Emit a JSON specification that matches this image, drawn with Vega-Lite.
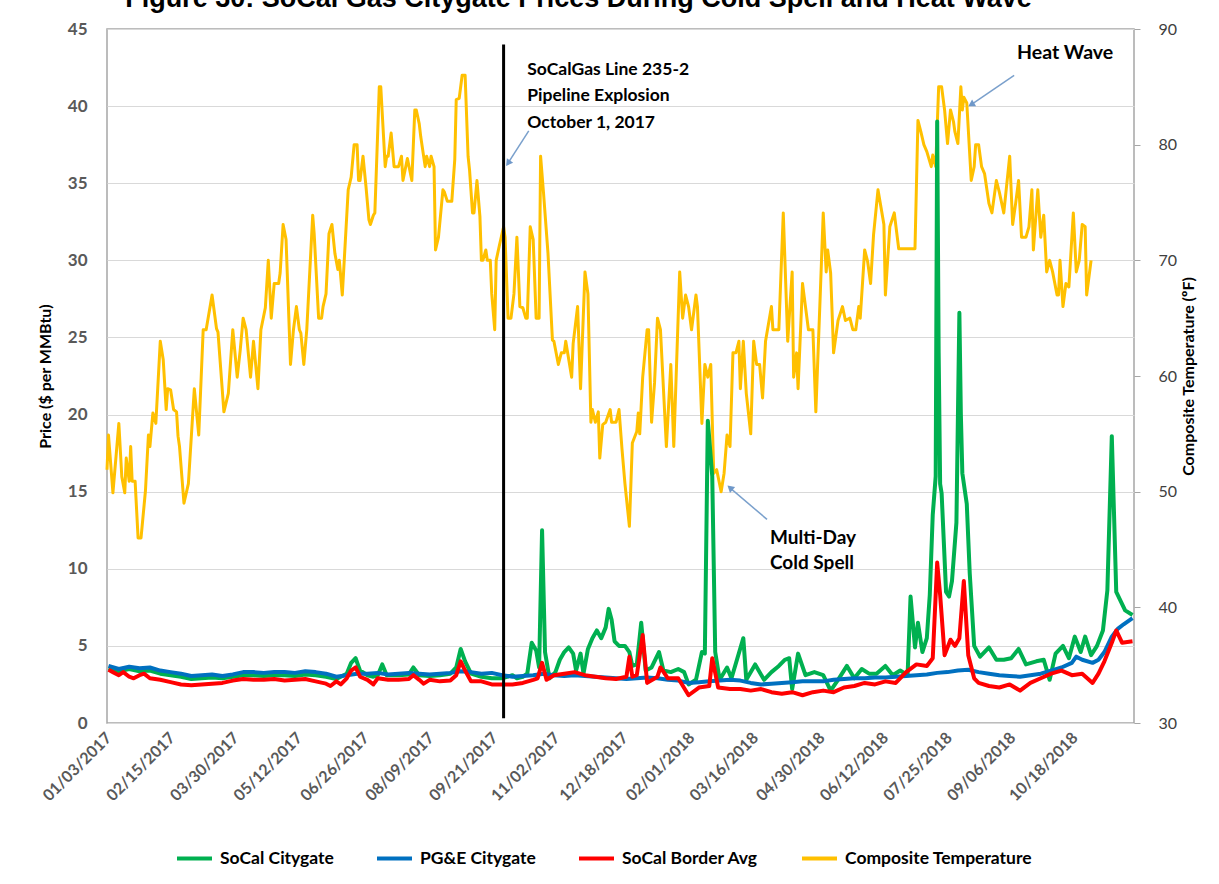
{
  "$schema": "https://vega.github.io/schema/vega-lite/v6.json",
  "width": 1027,
  "height": 694,
  "autosize": {"type": "none"},
  "padding": {"left": 107, "top": 29, "right": 85, "bottom": 161},
  "background": "white",
  "title": {"text": "Figure 30: SoCal Gas Citygate Prices During Cold Spell and Heat Wave", "font": "Liberation Sans", "fontSize": 27, "fontWeight": "bold", "color": "#000000", "anchor": "middle", "dx": -42, "dy": 16, "offset": 2, "baseline": "alphabetic"},
  "config": {
    "font": "Lato",
    "view": {"stroke": "#a6a6a6", "strokeWidth": 1.5},
    "axis": {"labelFont": "Lato", "titleFont": "Lato"}
  },
  "datasets": {
    "temperature": [
      {"date":"2017-01-02","temp":51.9},{"date":"2017-01-03","temp":54.9},{"date":"2017-01-06","temp":49.9},{"date":"2017-01-10","temp":55.9},{"date":"2017-01-12","temp":51.3},{"date":"2017-01-14","temp":49.9},{"date":"2017-01-15","temp":52.9},{"date":"2017-01-17","temp":50.9},{"date":"2017-01-18","temp":53.9},{"date":"2017-01-19","temp":50.9},{"date":"2017-01-21","temp":50.9},{"date":"2017-01-23","temp":46.0},{"date":"2017-01-25","temp":46.0},{"date":"2017-01-28","temp":50.1},{"date":"2017-01-30","temp":54.9},{"date":"2017-01-31","temp":53.9},
      {"date":"2017-02-02","temp":56.8},{"date":"2017-02-04","temp":55.9},{"date":"2017-02-07","temp":63.0},{"date":"2017-02-09","temp":61.4},{"date":"2017-02-11","temp":57.1},{"date":"2017-02-12","temp":58.9},{"date":"2017-02-14","temp":58.8},{"date":"2017-02-16","temp":57.1},{"date":"2017-02-18","temp":56.9},{"date":"2017-02-19","temp":54.8},{"date":"2017-02-20","temp":53.9},{"date":"2017-02-23","temp":49.0},{"date":"2017-02-26","temp":50.7},
      {"date":"2017-03-02","temp":58.9},{"date":"2017-03-05","temp":54.9},{"date":"2017-03-08","temp":64.0},{"date":"2017-03-10","temp":64.0},{"date":"2017-03-14","temp":67.0},{"date":"2017-03-17","temp":64.1},{"date":"2017-03-18","temp":63.8},{"date":"2017-03-22","temp":56.9},{"date":"2017-03-25","temp":58.5},{"date":"2017-03-28","temp":64.0},{"date":"2017-03-31","temp":59.9},
      {"date":"2017-04-02","temp":62.2},{"date":"2017-04-04","temp":65.0},{"date":"2017-04-06","temp":64.0},{"date":"2017-04-09","temp":59.9},{"date":"2017-04-11","temp":63.0},{"date":"2017-04-14","temp":58.9},{"date":"2017-04-16","temp":64.0},{"date":"2017-04-19","temp":65.9},{"date":"2017-04-21","temp":70.0},{"date":"2017-04-23","temp":65.0},{"date":"2017-04-25","temp":68.0},{"date":"2017-04-28","temp":68.0},{"date":"2017-04-29","temp":68.9},
      {"date":"2017-05-01","temp":73.1},{"date":"2017-05-03","temp":71.8},{"date":"2017-05-06","temp":61.0},{"date":"2017-05-08","temp":64.0},{"date":"2017-05-10","temp":66.0},{"date":"2017-05-12","temp":64.0},{"date":"2017-05-13","temp":63.7},{"date":"2017-05-15","temp":61.0},{"date":"2017-05-17","temp":64.0},{"date":"2017-05-21","temp":73.9},{"date":"2017-05-22","temp":72.3},{"date":"2017-05-25","temp":65.0},{"date":"2017-05-27","temp":65.0},{"date":"2017-05-28","temp":66.0},{"date":"2017-05-30","temp":67.1},
      {"date":"2017-06-01","temp":72.3},{"date":"2017-06-03","temp":73.1},{"date":"2017-06-05","temp":70.6},{"date":"2017-06-07","temp":69.2},{"date":"2017-06-08","temp":70.0},{"date":"2017-06-10","temp":67.0},{"date":"2017-06-14","temp":76.1},{"date":"2017-06-16","temp":77.2},{"date":"2017-06-18","temp":80.0},{"date":"2017-06-20","temp":80.0},{"date":"2017-06-21","temp":76.9},{"date":"2017-06-22","temp":76.9},{"date":"2017-06-24","temp":79.0},{"date":"2017-06-26","temp":76.4},{"date":"2017-06-28","temp":73.5},{"date":"2017-06-29","temp":73.1},
      {"date":"2017-07-01","temp":73.9},{"date":"2017-07-02","temp":74.1},{"date":"2017-07-05","temp":85.0},{"date":"2017-07-06","temp":85.0},{"date":"2017-07-08","temp":80.4},{"date":"2017-07-09","temp":78.1},{"date":"2017-07-10","temp":79.0},{"date":"2017-07-11","temp":79.0},{"date":"2017-07-13","temp":81.0},{"date":"2017-07-15","temp":78.1},{"date":"2017-07-18","temp":78.1},{"date":"2017-07-20","temp":79.0},{"date":"2017-07-21","temp":76.9},{"date":"2017-07-24","temp":78.8},{"date":"2017-07-27","temp":76.9},{"date":"2017-07-29","temp":83.0},{"date":"2017-07-30","temp":83.0},
      {"date":"2017-08-01","temp":81.8},{"date":"2017-08-02","temp":80.7},{"date":"2017-08-05","temp":78.1},{"date":"2017-08-06","temp":79.0},{"date":"2017-08-08","temp":78.1},{"date":"2017-08-09","temp":79.0},{"date":"2017-08-11","temp":78.1},{"date":"2017-08-12","temp":70.9},{"date":"2017-08-14","temp":72.0},{"date":"2017-08-17","temp":76.1},{"date":"2017-08-18","temp":75.9},{"date":"2017-08-20","temp":75.1},{"date":"2017-08-23","temp":75.1},{"date":"2017-08-25","temp":78.7},{"date":"2017-08-26","temp":83.9},{"date":"2017-08-28","temp":84.0},{"date":"2017-08-30","temp":86.0},
      {"date":"2017-09-01","temp":86.0},{"date":"2017-09-03","temp":79.0},{"date":"2017-09-04","temp":77.8},{"date":"2017-09-06","temp":74.1},{"date":"2017-09-07","temp":74.1},{"date":"2017-09-09","temp":76.9},{"date":"2017-09-11","temp":73.8},{"date":"2017-09-12","temp":70.0},{"date":"2017-09-13","temp":70.0},{"date":"2017-09-15","temp":70.9},{"date":"2017-09-16","temp":70.0},{"date":"2017-09-18","temp":70.0},{"date":"2017-09-19","temp":67.1},{"date":"2017-09-21","temp":64.0},{"date":"2017-09-22","temp":70.0},{"date":"2017-09-24","temp":71.2},{"date":"2017-09-27","temp":72.9},{"date":"2017-09-28","temp":72.0},{"date":"2017-09-30","temp":65.0},
      {"date":"2017-10-02","temp":65.0},{"date":"2017-10-04","temp":67.1},{"date":"2017-10-06","temp":72.0},{"date":"2017-10-08","temp":66.0},{"date":"2017-10-10","temp":65.9},{"date":"2017-10-12","temp":65.0},{"date":"2017-10-13","temp":65.0},{"date":"2017-10-15","temp":72.9},{"date":"2017-10-17","temp":71.8},{"date":"2017-10-19","temp":65.0},{"date":"2017-10-21","temp":65.0},{"date":"2017-10-22","temp":79.0},{"date":"2017-10-24","temp":75.8},{"date":"2017-10-27","temp":70.6},{"date":"2017-10-30","temp":63.1},{"date":"2017-10-31","temp":63.0},
      {"date":"2017-11-03","temp":61.0},{"date":"2017-11-05","temp":62.0},{"date":"2017-11-07","temp":62.0},{"date":"2017-11-08","temp":63.0},{"date":"2017-11-12","temp":59.9},{"date":"2017-11-13","temp":62.8},{"date":"2017-11-16","temp":66.0},{"date":"2017-11-18","temp":58.9},{"date":"2017-11-21","temp":69.0},{"date":"2017-11-23","temp":67.1},{"date":"2017-11-25","temp":56.0},{"date":"2017-11-26","temp":57.1},{"date":"2017-11-28","temp":56.0},{"date":"2017-11-30","temp":56.9},
      {"date":"2017-12-01","temp":52.9},{"date":"2017-12-03","temp":55.8},{"date":"2017-12-05","temp":56.0},{"date":"2017-12-08","temp":57.1},{"date":"2017-12-09","temp":56.0},{"date":"2017-12-12","temp":56.0},{"date":"2017-12-14","temp":57.1},{"date":"2017-12-16","temp":53.7},{"date":"2017-12-18","temp":50.7},{"date":"2017-12-21","temp":47.0},{"date":"2017-12-23","temp":54.2},{"date":"2017-12-26","temp":55.2},{"date":"2017-12-27","temp":56.8},{"date":"2017-12-28","temp":55.0},{"date":"2017-12-30","temp":59.9},
      {"date":"2018-01-02","temp":64.0},{"date":"2018-01-03","temp":64.0},{"date":"2018-01-05","temp":56.0},{"date":"2018-01-07","temp":59.4},{"date":"2018-01-09","temp":65.0},{"date":"2018-01-11","temp":64.0},{"date":"2018-01-15","temp":53.9},{"date":"2018-01-18","temp":61.0},{"date":"2018-01-20","temp":53.9},{"date":"2018-01-24","temp":69.0},{"date":"2018-01-26","temp":65.0},{"date":"2018-01-28","temp":67.0},{"date":"2018-01-30","temp":66.0},
      {"date":"2018-02-01","temp":64.0},{"date":"2018-02-04","temp":67.0},{"date":"2018-02-05","temp":66.0},{"date":"2018-02-08","temp":55.9},{"date":"2018-02-10","temp":61.0},{"date":"2018-02-12","temp":59.9},{"date":"2018-02-14","temp":61.0},{"date":"2018-02-15","temp":56.2},{"date":"2018-02-16","temp":51.6},{"date":"2018-02-18","temp":51.9},{"date":"2018-02-21","temp":50.0},{"date":"2018-02-23","temp":51.6},{"date":"2018-02-25","temp":54.9},{"date":"2018-02-27","temp":53.9},
      {"date":"2018-03-01","temp":62.0},{"date":"2018-03-03","temp":62.0},{"date":"2018-03-05","temp":63.0},{"date":"2018-03-06","temp":58.9},{"date":"2018-03-08","temp":63.0},{"date":"2018-03-10","temp":58.5},{"date":"2018-03-13","temp":55.0},{"date":"2018-03-15","temp":63.0},{"date":"2018-03-17","temp":61.0},{"date":"2018-03-19","temp":61.0},{"date":"2018-03-21","temp":58.1},{"date":"2018-03-23","temp":63.0},{"date":"2018-03-27","temp":66.0},{"date":"2018-03-28","temp":64.0},
      {"date":"2018-04-01","temp":64.0},{"date":"2018-04-04","temp":74.1},{"date":"2018-04-07","temp":63.0},{"date":"2018-04-10","temp":69.0},{"date":"2018-04-11","temp":59.9},{"date":"2018-04-13","temp":62.0},{"date":"2018-04-14","temp":58.9},{"date":"2018-04-17","temp":68.0},{"date":"2018-04-19","temp":66.0},{"date":"2018-04-21","temp":64.0},{"date":"2018-04-24","temp":64.0},{"date":"2018-04-26","temp":56.9},{"date":"2018-04-29","temp":67.1},
      {"date":"2018-05-01","temp":74.1},{"date":"2018-05-03","temp":69.0},{"date":"2018-05-04","temp":70.9},{"date":"2018-05-06","temp":68.9},{"date":"2018-05-08","temp":62.0},{"date":"2018-05-11","temp":64.8},{"date":"2018-05-14","temp":66.0},{"date":"2018-05-16","temp":64.8},{"date":"2018-05-19","temp":65.0},{"date":"2018-05-21","temp":64.0},{"date":"2018-05-23","temp":64.0},{"date":"2018-05-25","temp":66.0},{"date":"2018-05-26","temp":65.0},{"date":"2018-05-29","temp":70.9},{"date":"2018-05-31","temp":69.9},
      {"date":"2018-06-02","temp":68.0},{"date":"2018-06-04","temp":72.2},{"date":"2018-06-07","temp":76.1},{"date":"2018-06-09","temp":74.6},{"date":"2018-06-11","temp":73.1},{"date":"2018-06-12","temp":67.0},{"date":"2018-06-15","temp":72.9},{"date":"2018-06-18","temp":74.1},{"date":"2018-06-21","temp":71.0},
      {"date":"2018-07-02","temp":71.0},{"date":"2018-07-04","temp":82.1},{"date":"2018-07-06","temp":81.1},{"date":"2018-07-08","temp":80.0},{"date":"2018-07-10","temp":79.4},{"date":"2018-07-13","temp":78.1},{"date":"2018-07-14","temp":79.1},{"date":"2018-07-16","temp":78.1},{"date":"2018-07-18","temp":85.0},{"date":"2018-07-20","temp":85.0},{"date":"2018-07-22","temp":83.0},{"date":"2018-07-24","temp":80.1},{"date":"2018-07-26","temp":83.0},{"date":"2018-07-28","temp":82.0},{"date":"2018-07-29","temp":81.1},{"date":"2018-07-31","temp":80.1},
      {"date":"2018-08-02","temp":85.0},{"date":"2018-08-03","temp":83.0},{"date":"2018-08-04","temp":84.1},{"date":"2018-08-06","temp":83.6},{"date":"2018-08-09","temp":76.9},{"date":"2018-08-11","temp":78.1},{"date":"2018-08-12","temp":80.0},{"date":"2018-08-14","temp":80.0},{"date":"2018-08-16","temp":78.1},{"date":"2018-08-18","temp":77.5},{"date":"2018-08-21","temp":74.9},{"date":"2018-08-23","temp":74.1},{"date":"2018-08-26","temp":76.9},{"date":"2018-08-28","temp":75.9},{"date":"2018-08-31","temp":74.1},
      {"date":"2018-09-04","temp":79.0},{"date":"2018-09-06","temp":73.1},{"date":"2018-09-08","temp":74.9},{"date":"2018-09-10","temp":76.9},{"date":"2018-09-12","temp":72.0},{"date":"2018-09-15","temp":72.0},{"date":"2018-09-17","temp":72.9},{"date":"2018-09-19","temp":76.1},{"date":"2018-09-20","temp":70.9},{"date":"2018-09-23","temp":76.1},{"date":"2018-09-25","temp":72.0},{"date":"2018-09-27","temp":73.9},{"date":"2018-09-29","temp":69.0},
      {"date":"2018-10-01","temp":70.0},{"date":"2018-10-03","temp":69.0},{"date":"2018-10-06","temp":67.0},{"date":"2018-10-07","temp":67.0},{"date":"2018-10-08","temp":70.0},{"date":"2018-10-10","temp":66.0},{"date":"2018-10-12","temp":68.0},{"date":"2018-10-14","temp":67.7},{"date":"2018-10-17","temp":74.1},{"date":"2018-10-19","temp":69.0},{"date":"2018-10-21","temp":70.0},{"date":"2018-10-23","temp":73.1},{"date":"2018-10-25","temp":72.9},{"date":"2018-10-26","temp":67.0},{"date":"2018-10-29","temp":70.0}
    ],
    "citygate": [
      {"date":"2017-01-03","price":3.55},{"date":"2017-01-10","price":3.35},{"date":"2017-01-17","price":3.5},{"date":"2017-01-24","price":3.35},{"date":"2017-01-31","price":3.4},{"date":"2017-02-07","price":3.2},{"date":"2017-02-14","price":3.1},{"date":"2017-02-21","price":3.0},{"date":"2017-02-28","price":2.85},{"date":"2017-03-07","price":2.9},{"date":"2017-03-14","price":2.95},{"date":"2017-03-21","price":2.9},{"date":"2017-03-28","price":3.0},{"date":"2017-04-04","price":3.1},{"date":"2017-04-11","price":3.1},{"date":"2017-04-18","price":3.05},{"date":"2017-04-25","price":3.1},{"date":"2017-05-02","price":3.1},{"date":"2017-05-09","price":3.05},{"date":"2017-05-16","price":3.15},{"date":"2017-05-23","price":3.1},{"date":"2017-05-30","price":3.0},{"date":"2017-06-06","price":2.85},{"date":"2017-06-13","price":3.2},{"date":"2017-06-16","price":3.9},{"date":"2017-06-19","price":4.2},{"date":"2017-06-22","price":3.4},{"date":"2017-06-27","price":3.1},{"date":"2017-07-01","price":3.0},{"date":"2017-07-04","price":3.1},{"date":"2017-07-07","price":3.8},{"date":"2017-07-10","price":3.1},{"date":"2017-07-18","price":3.1},{"date":"2017-07-25","price":3.15},{"date":"2017-07-28","price":3.6},{"date":"2017-08-01","price":3.1},{"date":"2017-08-08","price":3.05},{"date":"2017-08-15","price":3.1},{"date":"2017-08-22","price":3.2},{"date":"2017-08-26","price":3.6},{"date":"2017-08-29","price":4.8},{"date":"2017-09-01","price":4.0},{"date":"2017-09-05","price":3.2},{"date":"2017-09-12","price":3.0},{"date":"2017-09-19","price":2.9},{"date":"2017-09-26","price":2.9},
      {"date":"2017-10-03","price":3.1},{"date":"2017-10-06","price":2.9},{"date":"2017-10-10","price":3.0},{"date":"2017-10-13","price":3.2},{"date":"2017-10-16","price":5.2},{"date":"2017-10-19","price":4.7},{"date":"2017-10-21","price":3.6},{"date":"2017-10-23","price":12.5},{"date":"2017-10-25","price":4.6},{"date":"2017-10-28","price":2.9},{"date":"2017-11-01","price":3.3},{"date":"2017-11-04","price":4.1},{"date":"2017-11-07","price":4.6},{"date":"2017-11-10","price":4.9},{"date":"2017-11-13","price":4.5},{"date":"2017-11-15","price":3.4},{"date":"2017-11-18","price":4.5},{"date":"2017-11-20","price":3.2},{"date":"2017-11-23","price":4.8},{"date":"2017-11-26","price":5.5},{"date":"2017-11-29","price":6.0},{"date":"2017-12-02","price":5.5},{"date":"2017-12-05","price":6.2},{"date":"2017-12-07","price":7.4},{"date":"2017-12-09","price":6.7},{"date":"2017-12-11","price":5.3},{"date":"2017-12-14","price":5.0},{"date":"2017-12-18","price":5.0},{"date":"2017-12-21","price":4.6},{"date":"2017-12-23","price":3.7},{"date":"2017-12-26","price":3.8},{"date":"2017-12-29","price":6.5},
      {"date":"2018-01-01","price":3.4},{"date":"2018-01-05","price":3.6},{"date":"2018-01-10","price":4.6},{"date":"2018-01-13","price":3.4},{"date":"2018-01-18","price":3.3},{"date":"2018-01-23","price":3.5},{"date":"2018-01-27","price":3.3},{"date":"2018-01-30","price":2.5},{"date":"2018-02-04","price":2.8},{"date":"2018-02-08","price":4.6},{"date":"2018-02-10","price":4.5},{"date":"2018-02-12","price":19.6},{"date":"2018-02-15","price":16.0},{"date":"2018-02-17","price":4.6},{"date":"2018-02-20","price":2.8},{"date":"2018-02-25","price":3.6},{"date":"2018-02-28","price":2.9},{"date":"2018-03-08","price":5.5},{"date":"2018-03-10","price":2.8},{"date":"2018-03-16","price":3.8},{"date":"2018-03-22","price":2.8},{"date":"2018-03-27","price":3.3},{"date":"2018-04-01","price":3.7},{"date":"2018-04-05","price":4.1},{"date":"2018-04-08","price":4.2},{"date":"2018-04-10","price":2.2},{"date":"2018-04-14","price":4.5},{"date":"2018-04-19","price":3.1},{"date":"2018-04-25","price":3.3},{"date":"2018-05-01","price":3.1},{"date":"2018-05-06","price":2.1},{"date":"2018-05-11","price":2.8},{"date":"2018-05-17","price":3.7},{"date":"2018-05-22","price":2.9},{"date":"2018-05-27","price":3.5},{"date":"2018-06-01","price":3.2},{"date":"2018-06-06","price":3.2},{"date":"2018-06-12","price":3.7},{"date":"2018-06-17","price":3.1},{"date":"2018-06-22","price":3.4},{"date":"2018-06-27","price":3.1},
      {"date":"2018-06-29","price":8.2},{"date":"2018-07-02","price":4.9},{"date":"2018-07-04","price":6.5},{"date":"2018-07-07","price":4.6},{"date":"2018-07-10","price":5.5},{"date":"2018-07-12","price":8.3},{"date":"2018-07-14","price":13.5},{"date":"2018-07-16","price":16.0},{"date":"2018-07-17","price":39.0},{"date":"2018-07-18","price":24.0},{"date":"2018-07-19","price":15.5},{"date":"2018-07-20","price":14.9},{"date":"2018-07-23","price":8.5},{"date":"2018-07-25","price":8.2},{"date":"2018-07-27","price":9.2},{"date":"2018-07-30","price":13.0},{"date":"2018-08-01","price":26.6},{"date":"2018-08-02","price":20.0},{"date":"2018-08-03","price":16.2},{"date":"2018-08-06","price":14.2},{"date":"2018-08-08","price":9.7},{"date":"2018-08-11","price":5.0},{"date":"2018-08-15","price":4.3},{"date":"2018-08-21","price":4.9},{"date":"2018-08-26","price":4.1},{"date":"2018-08-31","price":4.1},{"date":"2018-09-05","price":4.2},{"date":"2018-09-10","price":4.8},{"date":"2018-09-15","price":3.8},{"date":"2018-09-22","price":4.0},{"date":"2018-09-27","price":4.1},{"date":"2018-10-01","price":2.8},{"date":"2018-10-05","price":4.5},{"date":"2018-10-10","price":5.0},{"date":"2018-10-14","price":4.2},{"date":"2018-10-18","price":5.6},{"date":"2018-10-22","price":4.6},{"date":"2018-10-25","price":5.6},{"date":"2018-10-29","price":4.4},{"date":"2018-11-02","price":5.0},{"date":"2018-11-06","price":6.0},{"date":"2018-11-09","price":8.6},{"date":"2018-11-12","price":18.6},{"date":"2018-11-15","price":8.5},{"date":"2018-11-18","price":7.9},{"date":"2018-11-21","price":7.3},{"date":"2018-11-26","price":7.0}
    ],
    "pge": [
      {"date":"2017-01-03","price":3.7},{"date":"2017-01-10","price":3.5},{"date":"2017-01-17","price":3.65},{"date":"2017-01-24","price":3.55},{"date":"2017-01-31","price":3.6},{"date":"2017-02-07","price":3.4},{"date":"2017-02-14","price":3.3},{"date":"2017-02-21","price":3.2},{"date":"2017-02-28","price":3.05},{"date":"2017-03-07","price":3.1},{"date":"2017-03-14","price":3.15},{"date":"2017-03-21","price":3.05},{"date":"2017-03-28","price":3.15},{"date":"2017-04-04","price":3.3},{"date":"2017-04-11","price":3.3},{"date":"2017-04-18","price":3.25},{"date":"2017-04-25","price":3.3},{"date":"2017-05-02","price":3.3},{"date":"2017-05-09","price":3.25},{"date":"2017-05-16","price":3.35},{"date":"2017-05-23","price":3.3},{"date":"2017-05-30","price":3.2},{"date":"2017-06-06","price":3.0},{"date":"2017-06-13","price":3.1},{"date":"2017-06-20","price":3.2},{"date":"2017-06-27","price":3.2},{"date":"2017-07-04","price":3.25},{"date":"2017-07-11","price":3.15},{"date":"2017-07-18","price":3.2},{"date":"2017-07-25","price":3.25},{"date":"2017-08-01","price":3.2},{"date":"2017-08-08","price":3.15},{"date":"2017-08-15","price":3.2},{"date":"2017-08-22","price":3.25},{"date":"2017-08-29","price":3.35},{"date":"2017-09-05","price":3.3},{"date":"2017-09-12","price":3.2},{"date":"2017-09-19","price":3.25},{"date":"2017-09-26","price":3.1},{"date":"2017-10-03","price":3.0},{"date":"2017-10-10","price":3.05},{"date":"2017-10-17","price":3.1},{"date":"2017-10-24","price":3.2},{"date":"2017-10-31","price":3.1},{"date":"2017-11-07","price":3.05},{"date":"2017-11-14","price":3.1},{"date":"2017-11-21","price":3.05},{"date":"2017-11-28","price":3.0},{"date":"2017-12-05","price":2.95},{"date":"2017-12-12","price":2.9},{"date":"2017-12-19","price":2.85},{"date":"2017-12-26","price":2.9},
      {"date":"2018-01-02","price":2.95},{"date":"2018-01-09","price":2.9},{"date":"2018-01-16","price":2.8},{"date":"2018-01-23","price":2.75},{"date":"2018-01-30","price":2.6},{"date":"2018-02-06","price":2.65},{"date":"2018-02-13","price":2.7},{"date":"2018-02-20","price":2.75},{"date":"2018-02-27","price":2.8},{"date":"2018-03-06","price":2.75},{"date":"2018-03-13","price":2.6},{"date":"2018-03-20","price":2.5},{"date":"2018-03-27","price":2.55},{"date":"2018-04-03","price":2.6},{"date":"2018-04-10","price":2.65},{"date":"2018-04-17","price":2.7},{"date":"2018-04-24","price":2.7},{"date":"2018-05-01","price":2.7},{"date":"2018-05-08","price":2.8},{"date":"2018-05-15","price":2.85},{"date":"2018-05-22","price":2.9},{"date":"2018-05-29","price":2.9},{"date":"2018-06-05","price":2.95},{"date":"2018-06-12","price":2.95},{"date":"2018-06-19","price":3.0},{"date":"2018-06-26","price":3.05},{"date":"2018-07-03","price":3.1},{"date":"2018-07-10","price":3.15},{"date":"2018-07-17","price":3.25},{"date":"2018-07-24","price":3.3},{"date":"2018-07-31","price":3.4},{"date":"2018-08-07","price":3.45},{"date":"2018-08-14","price":3.3},{"date":"2018-08-21","price":3.2},{"date":"2018-08-28","price":3.1},{"date":"2018-09-04","price":3.05},{"date":"2018-09-11","price":3.0},{"date":"2018-09-18","price":3.1},{"date":"2018-09-25","price":3.2},{"date":"2018-10-02","price":3.4},{"date":"2018-10-09","price":3.6},{"date":"2018-10-16","price":3.9},{"date":"2018-10-19","price":4.3},{"date":"2018-10-23","price":4.1},{"date":"2018-10-30","price":3.9},{"date":"2018-11-03","price":4.1},{"date":"2018-11-07","price":4.6},{"date":"2018-11-12","price":5.6},{"date":"2018-11-16","price":6.1},{"date":"2018-11-20","price":6.4},{"date":"2018-11-26","price":6.8}
    ],
    "border": [
      {"date":"2017-01-03","price":3.45},{"date":"2017-01-06","price":3.3},{"date":"2017-01-10","price":3.1},{"date":"2017-01-13","price":3.3},{"date":"2017-01-17","price":3.0},{"date":"2017-01-20","price":2.9},{"date":"2017-01-24","price":3.1},{"date":"2017-01-27","price":3.2},{"date":"2017-01-31","price":2.9},{"date":"2017-02-07","price":2.8},{"date":"2017-02-14","price":2.65},{"date":"2017-02-21","price":2.5},{"date":"2017-02-28","price":2.45},{"date":"2017-03-07","price":2.5},{"date":"2017-03-14","price":2.55},{"date":"2017-03-21","price":2.6},{"date":"2017-03-28","price":2.75},{"date":"2017-04-04","price":2.85},{"date":"2017-04-11","price":2.8},{"date":"2017-04-18","price":2.8},{"date":"2017-04-25","price":2.85},{"date":"2017-05-02","price":2.75},{"date":"2017-05-09","price":2.8},{"date":"2017-05-16","price":2.85},{"date":"2017-05-23","price":2.7},{"date":"2017-05-30","price":2.55},{"date":"2017-06-02","price":2.4},{"date":"2017-06-06","price":2.7},{"date":"2017-06-09","price":2.5},{"date":"2017-06-13","price":2.9},{"date":"2017-06-16","price":3.4},{"date":"2017-06-19","price":3.6},{"date":"2017-06-22","price":3.0},{"date":"2017-06-27","price":2.8},{"date":"2017-07-01","price":2.5},{"date":"2017-07-04","price":2.9},{"date":"2017-07-11","price":2.8},{"date":"2017-07-18","price":2.8},{"date":"2017-07-25","price":2.85},{"date":"2017-07-28","price":3.1},{"date":"2017-08-01","price":2.8},{"date":"2017-08-04","price":2.55},{"date":"2017-08-08","price":2.8},{"date":"2017-08-15","price":2.7},{"date":"2017-08-22","price":2.75},{"date":"2017-08-26","price":3.1},{"date":"2017-08-29","price":4.0},{"date":"2017-09-01","price":3.4},{"date":"2017-09-05","price":2.7},{"date":"2017-09-12","price":2.7},{"date":"2017-09-19","price":2.5},{"date":"2017-09-26","price":2.5},
      {"date":"2017-10-03","price":2.5},{"date":"2017-10-10","price":2.6},{"date":"2017-10-17","price":2.8},{"date":"2017-10-20","price":2.9},{"date":"2017-10-23","price":3.9},{"date":"2017-10-26","price":2.8},{"date":"2017-10-31","price":3.1},{"date":"2017-11-07","price":3.2},{"date":"2017-11-14","price":3.3},{"date":"2017-11-21","price":3.1},{"date":"2017-11-28","price":3.0},{"date":"2017-12-05","price":2.9},{"date":"2017-12-12","price":2.85},{"date":"2017-12-19","price":3.0},{"date":"2017-12-21","price":4.3},{"date":"2017-12-23","price":3.0},{"date":"2017-12-26","price":3.1},{"date":"2017-12-30","price":5.7},
      {"date":"2018-01-02","price":2.6},{"date":"2018-01-09","price":3.0},{"date":"2018-01-11","price":3.6},{"date":"2018-01-16","price":2.9},{"date":"2018-01-23","price":2.9},{"date":"2018-01-30","price":1.8},{"date":"2018-02-06","price":2.3},{"date":"2018-02-13","price":2.4},{"date":"2018-02-15","price":4.2},{"date":"2018-02-19","price":2.3},{"date":"2018-02-27","price":2.2},{"date":"2018-03-06","price":2.2},{"date":"2018-03-13","price":2.1},{"date":"2018-03-20","price":2.2},{"date":"2018-03-27","price":2.0},{"date":"2018-04-03","price":1.9},{"date":"2018-04-10","price":2.0},{"date":"2018-04-17","price":1.8},{"date":"2018-04-24","price":2.0},{"date":"2018-05-01","price":2.1},{"date":"2018-05-08","price":2.0},{"date":"2018-05-15","price":2.3},{"date":"2018-05-22","price":2.4},{"date":"2018-05-29","price":2.6},{"date":"2018-06-05","price":2.5},{"date":"2018-06-12","price":2.7},{"date":"2018-06-19","price":2.6},{"date":"2018-06-26","price":3.3},{"date":"2018-07-03","price":3.8},{"date":"2018-07-10","price":3.7},{"date":"2018-07-14","price":4.2},{"date":"2018-07-17","price":10.4},{"date":"2018-07-19","price":8.3},{"date":"2018-07-22","price":4.4},{"date":"2018-07-26","price":5.4},{"date":"2018-07-29","price":5.0},{"date":"2018-08-01","price":5.5},{"date":"2018-08-04","price":9.2},{"date":"2018-08-07","price":4.4},{"date":"2018-08-11","price":2.9},{"date":"2018-08-14","price":2.6},{"date":"2018-08-21","price":2.4},{"date":"2018-08-28","price":2.3},{"date":"2018-09-04","price":2.5},{"date":"2018-09-11","price":2.1},{"date":"2018-09-18","price":2.6},{"date":"2018-09-25","price":2.9},{"date":"2018-10-02","price":3.2},{"date":"2018-10-09","price":3.4},{"date":"2018-10-16","price":3.1},{"date":"2018-10-23","price":3.2},{"date":"2018-10-30","price":2.6},{"date":"2018-11-03","price":3.2},{"date":"2018-11-07","price":4.0},{"date":"2018-11-12","price":5.2},{"date":"2018-11-15","price":6.0},{"date":"2018-11-19","price":5.2},{"date":"2018-11-26","price":5.3}
    ],
    "explosion": [{"date": "2017-09-27", "price": 44, "price2": 0.3}],
    "arrows": [
      {"date": "2017-10-14", "price": 38.4, "date2": "2017-09-30", "price2": 36.3},
      {"date": "2018-09-07", "price": 42.0, "date2": "2018-08-09", "price2": 40.1},
      {"date": "2018-03-24", "price": 13.2, "date2": "2018-02-27", "price2": 15.25}
    ]
  },
  "encoding": {
    "x": {
      "field": "date",
      "type": "temporal",
      "scale": {"type": "utc", "domain": [{"year": 2017, "month": 1, "date": 2, "utc": true}, {"year": 2018, "month": 11, "date": 27, "utc": true}]},
      "axis": {
        "values": [
          {"year": 2017, "month": 1, "date": 3, "utc": true},
          {"year": 2017, "month": 2, "date": 15, "utc": true},
          {"year": 2017, "month": 3, "date": 30, "utc": true},
          {"year": 2017, "month": 5, "date": 12, "utc": true},
          {"year": 2017, "month": 6, "date": 26, "utc": true},
          {"year": 2017, "month": 8, "date": 9, "utc": true},
          {"year": 2017, "month": 9, "date": 21, "utc": true},
          {"year": 2017, "month": 11, "date": 2, "utc": true},
          {"year": 2017, "month": 12, "date": 18, "utc": true},
          {"year": 2018, "month": 2, "date": 1, "utc": true},
          {"year": 2018, "month": 3, "date": 16, "utc": true},
          {"year": 2018, "month": 4, "date": 30, "utc": true},
          {"year": 2018, "month": 6, "date": 12, "utc": true},
          {"year": 2018, "month": 7, "date": 25, "utc": true},
          {"year": 2018, "month": 9, "date": 6, "utc": true},
          {"year": 2018, "month": 10, "date": 18, "utc": true}
        ],
        "labelExpr": "utcFormat(datum.value, '%m/%d/%Y')",
        "labelAngle": -45,
        "labelAlign": "right",
        "labelBaseline": "middle",
        "labelFontSize": 16,
        "labelFontWeight": "bold",
        "labelColor": "#595959",
        "labelPadding": 12,
        "labelOverlap": false,
        "ticks": false,
        "domain": false,
        "grid": false,
        "title": null
      }
    }
  },
  "resolve": {"scale": {"y": "independent"}},
  "layer": [
    {
      "data": {"name": "temperature"},
      "mark": {"type": "line", "strokeWidth": 3, "strokeJoin": "round"},
      "encoding": {
        "y": {
          "field": "temp",
          "type": "quantitative",
          "scale": {"domain": [30, 90], "nice": false, "zero": false},
          "axis": {
            "orient": "right",
            "values": [30, 40, 50, 60, 70, 80, 90],
            "title": "Composite Temperature (ºF)",
            "titleAngle": 270,
            "titleFontSize": 16,
            "titleFontWeight": "bold",
            "titleColor": "#000000",
            "titlePadding": 20,
            "labelFontSize": 16,
            "labelColor": "#404040",
            "labelPadding": 18,
            "ticks": true,
            "tickSize": 6,
            "tickColor": "#a6a6a6",
            "domain": false,
            "grid": false
          }
        },
        "color": {
          "datum": "Composite Temperature",
          "scale": {
            "domain": ["SoCal Citygate", "PG&E Citygate", "SoCal Border Avg", "Composite Temperature"],
            "range": ["#00b050", "#0070c0", "#ff0000", "#ffc000"]
          },
          "legend": {
            "orient": "none",
            "legendX": 68,
            "legendY": 810,
            "direction": "horizontal",
            "title": null,
            "symbolType": "stroke",
            "symbolStrokeWidth": 4,
            "symbolSize": 1225,
            "labelFont": "Lato",
            "labelFontSize": 17.5,
            "labelFontWeight": "bold",
            "labelColor": "#000000",
            "labelLimit": 400,
            "labelOffset": 6,
            "columnPadding": 35,
            "padding": 0
          }
        }
      }
    },
    {
      "layer": [
        {
          "data": {"name": "citygate"},
          "mark": {"type": "line", "strokeWidth": 4, "strokeJoin": "round"},
          "encoding": {
            "y": {
              "field": "price",
              "type": "quantitative",
              "scale": {"domain": [0, 45], "nice": false},
              "axis": {
                "values": [0, 5, 10, 15, 20, 25, 30, 35, 40, 45],
                "title": "Price ($ per MMBtu)",
                "titleFontSize": 16,
                "titleFontWeight": "bold",
                "titleColor": "#000000",
                "titlePadding": 14,
                "labelFontSize": 17,
                "labelFontWeight": "bold",
                "labelColor": "#595959",
                "labelPadding": 20,
                "ticks": false,
                "domain": false,
                "grid": true,
                "gridColor": "#d9d9d9",
                "gridWidth": 1
              }
            },
            "color": {"datum": "SoCal Citygate"}
          }
        },
        {
          "data": {"name": "pge"},
          "mark": {"type": "line", "strokeWidth": 4, "strokeJoin": "round"},
          "encoding": {
            "y": {"field": "price", "type": "quantitative"},
            "color": {"datum": "PG&E Citygate"}
          }
        },
        {
          "data": {"name": "border"},
          "mark": {"type": "line", "strokeWidth": 4, "strokeJoin": "round"},
          "encoding": {
            "y": {"field": "price", "type": "quantitative"},
            "color": {"datum": "SoCal Border Avg"}
          }
        },
        {
          "data": {"name": "explosion"},
          "mark": {"type": "rule", "color": "#000000", "strokeWidth": 3},
          "encoding": {
            "y": {"field": "price", "type": "quantitative"},
            "y2": {"field": "price2"}
          }
        },
        {
          "data": {"values": [{"date": "2017-10-13", "price": 42.94}]},
          "mark": {"type": "text", "text": ["SoCalGas Line 235-2", "Pipeline Explosion", "October 1, 2017"], "align": "left", "baseline": "top", "font": "Lato", "fontSize": 17.5, "fontWeight": "bold", "color": "#000000", "lineHeight": 26.5},
          "encoding": {
            "y": {"field": "price", "type": "quantitative"}
          }
        },
        {
          "data": {"values": [{"date": "2018-09-09", "price": 43.45}]},
          "mark": {"type": "text", "text": "Heat Wave", "align": "left", "baseline": "middle", "font": "Lato", "fontSize": 19.5, "fontWeight": "bold", "color": "#000000"},
          "encoding": {
            "y": {"field": "price", "type": "quantitative"}
          }
        },
        {
          "data": {"values": [{"date": "2018-03-26", "price": 12.57}]},
          "mark": {"type": "text", "text": ["Multi-Day", "Cold Spell"], "align": "left", "baseline": "top", "font": "Lato", "fontSize": 19, "fontWeight": "bold", "color": "#000000", "lineHeight": 25},
          "encoding": {
            "y": {"field": "price", "type": "quantitative"}
          }
        },
        {
          "data": {"name": "arrows"},
          "mark": {"type": "rule", "color": "#7aa0cc", "strokeWidth": 1.5},
          "encoding": {
            "y": {"field": "price", "type": "quantitative"},
            "x2": {"field": "date2"},
            "y2": {"field": "price2"}
          }
        },
        {
          "data": {"values": [{"date": "2017-09-30", "price": 36.3}]},
          "mark": {"type": "point", "shape": "triangle-up", "filled": true, "size": 60, "angle": 216, "color": "#6f98c9", "opacity": 1},
          "encoding": {
            "y": {"field": "price", "type": "quantitative"}
          }
        },
        {
          "data": {"values": [{"date": "2018-08-09", "price": 40.1}]},
          "mark": {"type": "point", "shape": "triangle-up", "filled": true, "size": 60, "angle": 239, "color": "#6f98c9", "opacity": 1},
          "encoding": {
            "y": {"field": "price", "type": "quantitative"}
          }
        },
        {
          "data": {"values": [{"date": "2018-02-27", "price": 15.25}]},
          "mark": {"type": "point", "shape": "triangle-up", "filled": true, "size": 60, "angle": 311, "color": "#6f98c9", "opacity": 1},
          "encoding": {
            "y": {"field": "price", "type": "quantitative"}
          }
        }
      ]
    }
  ]
}
